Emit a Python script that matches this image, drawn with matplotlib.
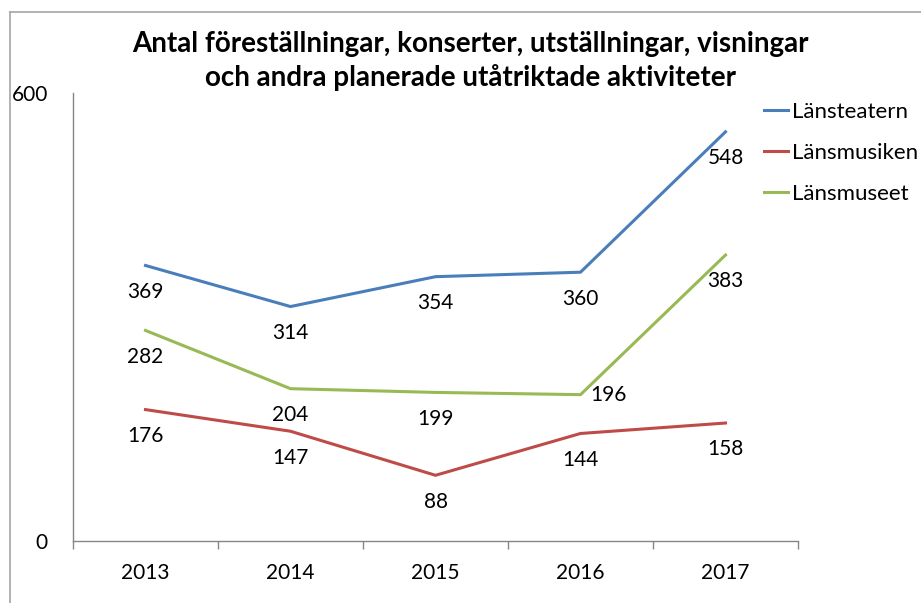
import matplotlib.pyplot as plt
from matplotlib.lines import Line2D

years = ['2013', '2014', '2015', '2016', '2017']
lansteatern = [369, 314, 354, 360, 548]
lansmusiken = [176, 147, 88, 144, 158]
lansmuseet = [282, 204, 199, 196, 383]

plt.rcParams['font.family'] = ['Lato', 'DejaVu Sans']

W, H = 921, 603
fig = plt.figure(figsize=(W / 100, H / 100), dpi=100)
ax = fig.add_axes([73 / W, 1 - 541 / H, (798 - 73) / W, (541 - 93) / H])

x = list(range(len(years)))
series = [
    ('Länsteatern', lansteatern, '#4A7EBB'),
    ('Länsmusiken', lansmusiken, '#BE4B48'),
    ('Länsmuseet', lansmuseet, '#98B954'),
]
fs = 15
for name, vals, col in series:
    ax.plot(x, vals, color=col, lw=2.2, label=name)
    for i, v in enumerate(vals):
        if name == 'Länsmuseet' and i == 3:
            ax.annotate(str(v), (i, v), xytext=(7, 0), textcoords='offset points',
                        ha='left', va='center', fontsize=fs)
        else:
            ax.annotate(str(v), (i, v), xytext=(0, -19), textcoords='offset points',
                        ha='center', va='center', fontsize=fs)

ax.set_xlim(-0.5, 4.5)
ax.set_ylim(0, 600)
ax.set_yticks([0, 600])
ax.tick_params(axis='y', length=0, pad=18, labelsize=fs)
ax.set_xticks([i - 0.5 for i in range(len(years) + 1)])
ax.set_xticklabels([])
ax.set_xticks(x, minor=True)
ax.set_xticklabels(years, minor=True, fontsize=fs)
ax.tick_params(axis='x', which='major', length=6, color='#868686', width=1)
ax.tick_params(axis='x', which='minor', length=0, pad=16)
for s in ['top', 'right']:
    ax.spines[s].set_visible(False)
for s in ['left', 'bottom']:
    ax.spines[s].set_color('#868686')
    ax.spines[s].set_linewidth(1)

fig.text(470 / W, 1 - 61 / H,
         'Antal föreställningar, konserter, utställningar, visningar\noch andra planerade utåtriktade aktiviteter',
         ha='center', va='center', fontsize=20, fontweight='bold', linespacing=1.3)

fig.legend(loc='upper left', bbox_to_anchor=(755 / W, 1 - 93 / H), frameon=False,
           fontsize=16, handlelength=1.1, handletextpad=0.15, labelspacing=0.95,
           borderaxespad=0)

fig.add_artist(Line2D([10 / W, 10 / W], [0, 1 - 12 / H], color='#A6A6A6', lw=1.2))
fig.add_artist(Line2D([10 / W, 1], [1 - 12 / H, 1 - 12 / H], color='#A6A6A6', lw=1.2))

fig.savefig('out.png', dpi=100)
